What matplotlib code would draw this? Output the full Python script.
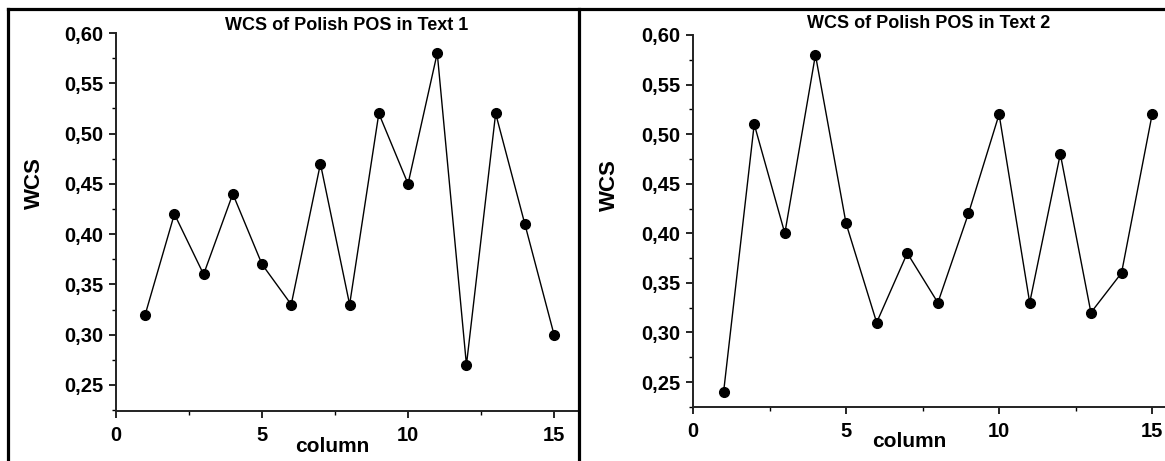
import matplotlib.pyplot as plt
from matplotlib.lines import Line2D
from matplotlib.ticker import MultipleLocator, FuncFormatter

plt.rcParams['font.family'] = ['Liberation Sans', 'DejaVu Sans']
plt.rcParams['font.weight'] = 'bold'

# WCS values per column
columns = list(range(1, 16))
wcs_text1 = [0.32, 0.42, 0.36, 0.44, 0.37, 0.33, 0.47, 0.33, 0.52, 0.45, 0.58, 0.27, 0.52, 0.41, 0.30]
wcs_text2 = [0.24, 0.51, 0.40, 0.58, 0.41, 0.31, 0.38, 0.33, 0.42, 0.52, 0.33, 0.48, 0.32, 0.36, 0.52]
titles = ["WCS of Polish POS in Text 1", "WCS of Polish POS in Text 2"]

W, H = 1165, 461
fig = plt.figure(figsize=(W / 100, H / 100), dpi=100)


def px_axes(x0, y_top, x1, y_bot):
    return fig.add_axes([x0 / W, 1 - y_bot / H, (x1 - x0) / W, (y_bot - y_top) / H])


def comma(v, pos):
    return f"{v:.2f}".replace('.', ',')


panels = [
    # axes box (px), xlim, ylim, xlabel x, ylabel centre (px), title centre (px), values
    ((116, 33, 578, 411), (0, 15.82), (0.2241, 0.60), 0.468, (34, 183), (347, 25), wcs_text1),
    ((693, 35, 1165, 407), (0, 15.42), (0.2248, 0.60), 0.458, (609, 185), (929, 23), wcs_text2),
]

for i, (box, xl, yl, xlab_x, ylab_xy, title_xy, vals) in enumerate(panels):
    ax = px_axes(*box)
    ax.plot(columns, vals, color='black', lw=1.0, marker='o', ms=7,
            markerfacecolor='black', markeredgecolor='black', clip_on=False)
    ax.set_xlim(*xl)
    ax.set_ylim(*yl)
    ax.spines['top'].set_visible(False)
    ax.spines['right'].set_visible(False)
    for s in ('left', 'bottom'):
        ax.spines[s].set_linewidth(1.4)
        ax.spines[s].set_color('#222222')
    ax.xaxis.set_major_locator(MultipleLocator(5))
    ax.xaxis.set_minor_locator(MultipleLocator(2.5))
    ax.yaxis.set_major_locator(MultipleLocator(0.05))
    ax.yaxis.set_minor_locator(MultipleLocator(0.025))
    ax.yaxis.set_major_formatter(FuncFormatter(comma))
    ax.tick_params(which='major', direction='out', length=5, width=1.2, labelsize=14.5, pad=4)
    ax.tick_params(which='minor', direction='out', length=3, width=1.0)
    ax.tick_params(axis='x', which='major', pad=6)
    ax.set_xlabel("column", fontsize=15, fontweight='bold')
    ax.xaxis.set_label_coords(xlab_x, -0.068)
    fig.text(title_xy[0] / W, 1 - title_xy[1] / H, titles[i], ha='center', va='center',
             fontsize=13, fontweight='bold')
    fig.text(ylab_xy[0] / W, 1 - ylab_xy[1] / H, "WCS", rotation=90,
             ha='center', va='center', fontsize=16, fontweight='bold')

# frame lines around the two panels
frame = dict(color='black', lw=2.3, transform=fig.transFigure)
fig.add_artist(Line2D([8 / W, 1], [1 - 9 / H, 1 - 9 / H], **frame))
fig.add_artist(Line2D([8 / W, 8 / W], [0, 1 - 9 / H], **frame))
fig.add_artist(Line2D([579 / W, 579 / W], [0, 1 - 9 / H], **frame))

fig.savefig("out.png", dpi=100)
